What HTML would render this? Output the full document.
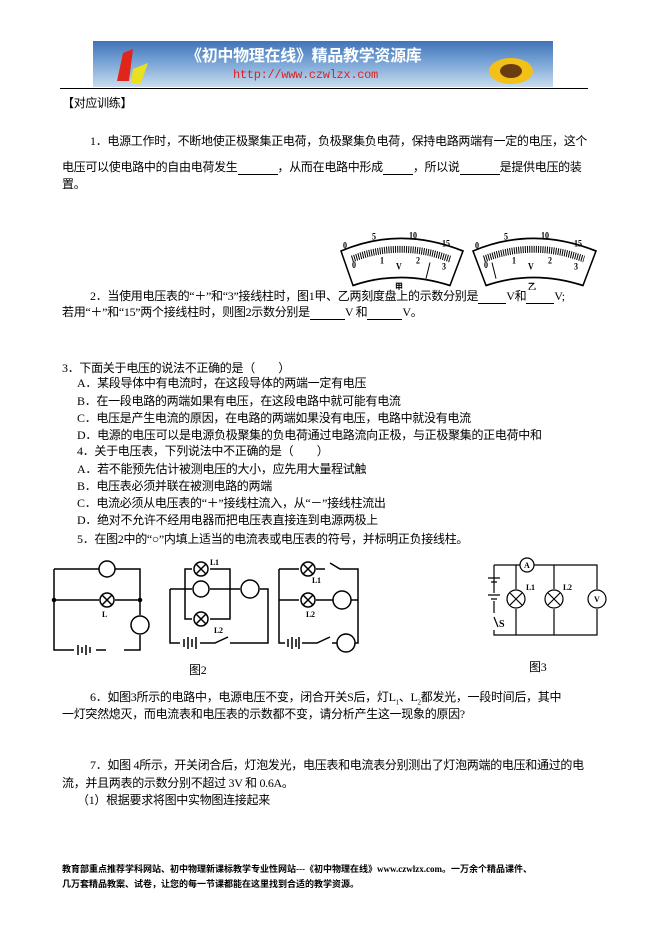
<!DOCTYPE html>
<html><head><meta charset="utf-8"><style>
body{margin:0;background:#fff;}
#p{position:relative;width:661px;height:936px;overflow:hidden;font-family:"Liberation Serif","Noto Sans CJK SC",sans-serif;font-size:12px;letter-spacing:-0.3px;color:#000;}
.t{position:absolute;white-space:nowrap;line-height:14px;}
u{text-decoration:none;border-bottom:1px solid #000;display:inline-block;}
</style></head><body><div id="p">
<div style="position:absolute;left:93px;top:41px;width:460px;height:46px;background:linear-gradient(180deg,#3f74b8 0%,#7ea8d8 50%,#c9dcec 100%);"></div>
<svg style="position:absolute;left:93px;top:41px" width="460" height="46">
<path d="M30 12 L40 8 L36 40 L24 40 Z" fill="#e0251b"/><path d="M40 28 L55 22 L48 42 L38 42 Z" fill="#e8e020"/>
<text x="93" y="20" font-family="Noto Sans CJK SC" font-size="16" fill="#fff" font-weight="bold">《初中物理在线》精品教学资源库</text>
<text x="140" y="37" font-family="Liberation Mono" font-size="12" fill="#d22">http://www.czwlzx.com</text>
<ellipse cx="418" cy="30" rx="22" ry="13" fill="#f2c018"/><ellipse cx="418" cy="30" rx="11" ry="7" fill="#6a3c10"/>
</svg>
<div style="position:absolute;left:60px;top:88px;width:528px;height:1px;background:#000"></div>
<div class="t" style="left:62px;top:96px">【对应训练】</div>
<div class="t" style="left:90px;top:134px">1．电源工作时，不断地使正极聚集正电荷，负极聚集负电荷，保持电路两端有一定的电压，这个</div>
<div class="t" style="left:62px;top:160px">电压可以使电路中的自由电荷发生<u style="width:40px">&nbsp;</u>，从而在电路中形成<u style="width:30px">&nbsp;</u>，所以说<u style="width:40px">&nbsp;</u>是提供电压的装</div>
<div class="t" style="left:62px;top:177px">置。</div>
<svg style="position:absolute;left:338px;top:226px" width="265" height="64" font-family="Liberation Serif" font-size="8" font-weight="bold" letter-spacing="0">
<g transform="translate(0,2) scale(1,1.15)">
<g fill="none" stroke="#000" stroke-width="1.5">
<path d="M3 20 Q62 -2 125 20 L112 50 Q62 36 15 50 Z"/>
<path d="M135 20 Q195 -2 258 20 L245 50 Q195 36 148 50 Z"/>
<path d="M14 27 Q62 10 112 27" stroke-width="6" stroke-dasharray="1 1.2"/>
<path d="M146 27 Q195 10 246 27" stroke-width="6" stroke-dasharray="1 1.2"/>
<line x1="88" y1="44" x2="92" y2="30" stroke-width="1"/><line x1="158" y1="44" x2="154" y2="30" stroke-width="1"/>
</g>
<text x="5" y="18">0</text><text x="34" y="10">5</text><text x="71" y="9">10</text><text x="104" y="16">15</text>
<text x="14" y="35">0</text><text x="42" y="31">1</text><text x="78" y="31">2</text><text x="104" y="36">3</text><text x="58" y="36">V</text><text x="57" y="54">甲</text>
<text x="137" y="18">0</text><text x="166" y="10">5</text><text x="203" y="9">10</text><text x="236" y="16">15</text>
<text x="146" y="35">0</text><text x="174" y="31">1</text><text x="210" y="31">2</text><text x="236" y="36">3</text><text x="190" y="36">V</text><text x="190" y="54">乙</text>
</g>
</svg>
<div class="t" style="left:90px;top:289px">2．当使用电压表的“＋”和“3”接线柱时，图1甲、乙两刻度盘上的示数分别是<u style="width:28px">&nbsp;</u>V和<u style="width:28px">&nbsp;</u>V;</div>
<div class="t" style="left:62px;top:305px">若用“＋”和“15”两个接线柱时，则图2示数分别是<u style="width:35px">&nbsp;</u>V 和<u style="width:35px">&nbsp;</u>V。</div>
<div class="t" style="left:62px;top:361px">3．下面关于电压的说法不正确的是（　　）</div>
<div class="t" style="left:77px;top:376px">A．某段导体中有电流时，在这段导体的两端一定有电压</div>
<div class="t" style="left:77px;top:394px">B．在一段电路的两端如果有电压，在这段电路中就可能有电流</div>
<div class="t" style="left:77px;top:411px">C．电压是产生电流的原因，在电路的两端如果没有电压，电路中就没有电流</div>
<div class="t" style="left:77px;top:428px">D．电源的电压可以是电源负极聚集的负电荷通过电路流向正极，与正极聚集的正电荷中和</div>
<div class="t" style="left:77px;top:444px">4．关于电压表，下列说法中不正确的是（　　）</div>
<div class="t" style="left:77px;top:462px">A．若不能预先估计被测电压的大小，应先用大量程试触</div>
<div class="t" style="left:77px;top:479px">B．电压表必须并联在被测电路的两端</div>
<div class="t" style="left:77px;top:496px">C．电流必须从电压表的“＋”接线柱流入，从“－”接线柱流出</div>
<div class="t" style="left:77px;top:513px">D．绝对不允许不经用电器而把电压表直接连到电源两极上</div>
<div class="t" style="left:77px;top:532px">5．在图2中的“○”内填上适当的电流表或电压表的符号，并标明正负接线柱。</div>
<svg style="position:absolute;left:40px;top:555px" width="600" height="100" fill="none" stroke="#000" stroke-width="1.5" font-family="Liberation Serif" font-size="8" font-weight="bold">
<path d="M14 14 H59 M75 14 H100 V45 M14 14 V95 H34 M56 95 H66 M84 95 H100 V80 M100 60 V45 M14 45 H59 M75 45 H100"/>
<circle cx="67" cy="14" r="8"/><circle cx="67" cy="45" r="7"/><path d="M62 40 L72 50 M72 40 L62 50"/><circle cx="100" cy="70" r="9"/>
<path d="M38 90 V100 M42 92 V98 M46 90 V100 M50 92 V98"/><circle cx="14" cy="45" r="1.5" fill="#000"/><circle cx="100" cy="45" r="1.5" fill="#000"/>
<text x="62" y="62" fill="#000" stroke="none">L</text>
<path d="M130 34 V88 H140 M160 88 H175 L188 82 M190 88 H228 V34 H220 M200 34 H190 M130 34 H152 M170 34 H190 M152 14 H145 V64 H152 M152 34 M170 14 H190 V64 H170 M145 14 H152"/>
<circle cx="161" cy="14" r="7"/><path d="M156 9 L166 19 M166 9 L156 19"/><circle cx="161" cy="34" r="8"/><circle cx="161" cy="64" r="7"/><path d="M156 59 L166 69 M166 59 L156 69"/><circle cx="210" cy="34" r="9"/>
<path d="M144 84 V92 M148 82 V94 M152 84 V92 M156 82 V94"/>
<text x="170" y="10" fill="#000" stroke="none">L1</text><text x="174" y="78" fill="#000" stroke="none">L2</text>
<path d="M239 14 V88 H245 M262 88 H277 L290 82 M292 88 H297 M315 88 H318 V14 H300 L290 8 M285 14 H276 M259 14 H239 M239 45 H259 M276 45 H293 M311 45 H318"/>
<circle cx="268" cy="14" r="7"/><path d="M263 9 L273 19 M273 9 L263 19"/><circle cx="268" cy="45" r="7"/><path d="M263 40 L273 50 M273 40 L263 50"/><circle cx="302" cy="45" r="9"/><circle cx="306" cy="88" r="9"/>
<path d="M248 84 V92 M252 82 V94 M256 84 V92 M259 82 V94"/>
<text x="272" y="28" fill="#000" stroke="none">L1</text><text x="266" y="62" fill="#000" stroke="none">L2</text>
<path d="M454 10 H480 M494 10 H557 V34 M557 54 V80 H454 V75 M454 62 L458 72 M454 58 V46 M454 38 V10 M476 10 V34 M476 54 V80 M514 10 V34 M514 54 V80" stroke-width="1.2"/>
<path d="M448 23 H460 M451 27 H457 M448 40 H460 M451 44 H457" stroke-width="1.2"/>
<circle cx="487" cy="10" r="7" stroke-width="1.2"/><circle cx="476" cy="44" r="9" stroke-width="1.2"/><path d="M470 38 L482 50 M482 38 L470 50" stroke-width="1.2"/>
<circle cx="514" cy="44" r="9" stroke-width="1.2"/><path d="M508 38 L520 50 M520 38 L508 50" stroke-width="1.2"/><circle cx="557" cy="44" r="9" stroke-width="1.2"/>
<text x="484" y="13" fill="#000" stroke="none">A</text><text x="554" y="47" fill="#000" stroke="none">V</text><text x="486" y="35" fill="#000" stroke="none">L1</text><text x="523" y="35" fill="#000" stroke="none">L2</text><text x="459" y="72" fill="#000" stroke="none" font-size="10">S</text>
</svg>
<div class="t" style="left:189px;top:663px">图2</div>
<div class="t" style="left:529px;top:660px">图3</div>
<div class="t" style="left:90px;top:690px">6．如图3所示的电路中，电源电压不变，闭合开关S后，灯L<sub style="font-size:7px">1</sub>、L<sub style="font-size:7px">2</sub>都发光，一段时间后，其中</div>
<div class="t" style="left:62px;top:707px">一灯突然熄灭，而电流表和电压表的示数都不变，请分析产生这一现象的原因?</div>
<div class="t" style="left:90px;top:758px">7．如图 4所示，开关闭合后，灯泡发光，电压表和电流表分别测出了灯泡两端的电压和通过的电</div>
<div class="t" style="left:62px;top:776px">流，并且两表的示数分别不超过 3V 和 0.6A。</div>
<div class="t" style="left:77px;top:793px">（1）根据要求将图中实物图连接起来</div>
<div class="t" style="left:62px;top:864px;font-size:9px;font-weight:bold;line-height:10px;letter-spacing:0">教育部重点推荐学科网站、初中物理新课标教学专业性网站---《初中物理在线》www.czwlzx.com。一万余个精品课件、</div>
<div class="t" style="left:62px;top:879px;font-size:9px;font-weight:bold;line-height:10px;letter-spacing:0">几万套精品教案、试卷，让您的每一节课都能在这里找到合适的教学资源。</div>
</div></body></html>
